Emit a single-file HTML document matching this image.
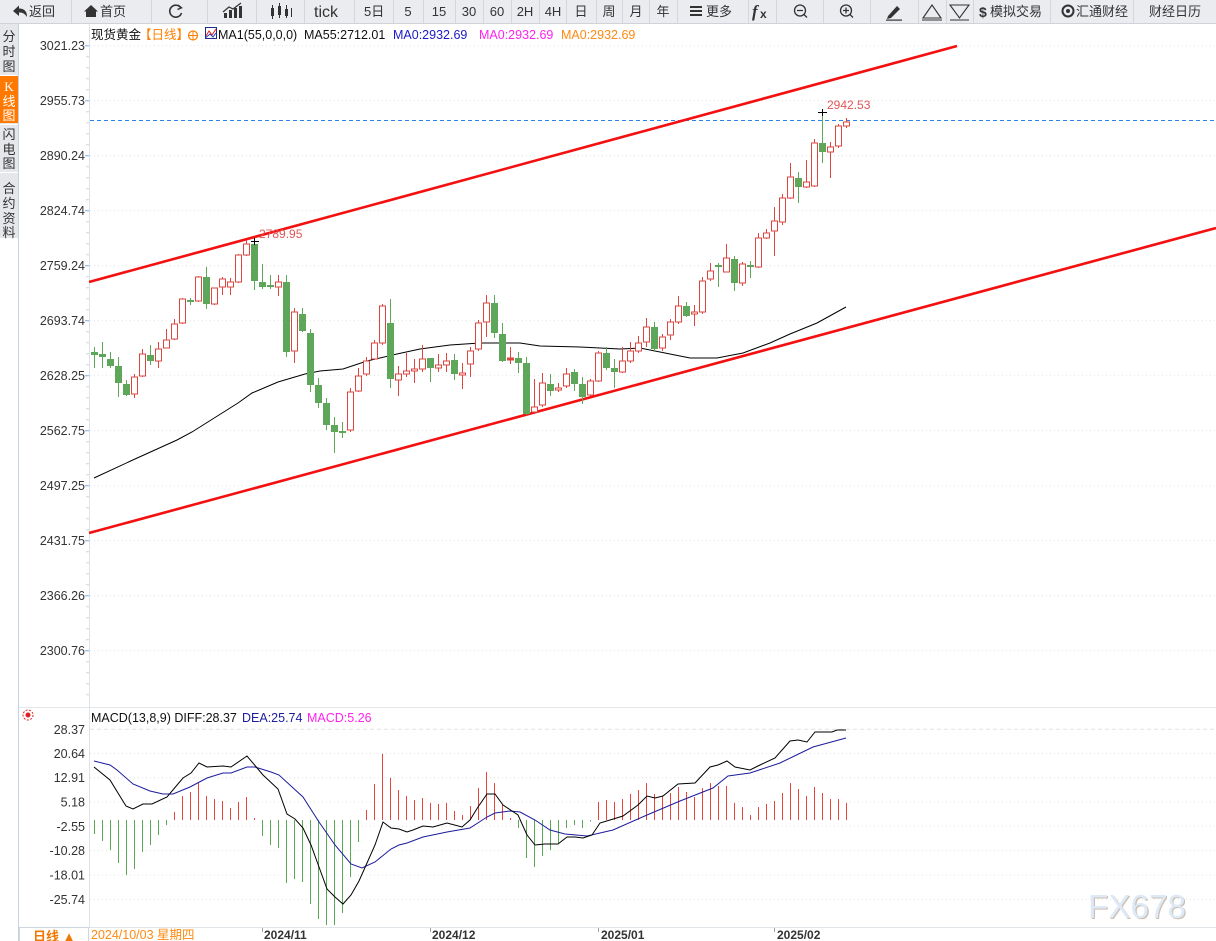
<!DOCTYPE html>
<html><head><meta charset="utf-8"><style>
html,body{margin:0;padding:0;background:#fff;width:1216px;height:941px;overflow:hidden}
svg{display:block;font-family:"Liberation Sans","Noto Sans CJK SC",sans-serif}
</style></head><body>
<svg width="1216" height="941" viewBox="0 0 1216 941" xmlns="http://www.w3.org/2000/svg">
<!-- toolbar -->
<rect x="0" y="0" width="1216" height="24" fill="#eaecf0"/>
<line x1="0" y1="23.5" x2="1216" y2="23.5" stroke="#cfd3d9"/>
<g stroke="#d3d7dd" stroke-width="1">
<path d="M71.5 0V23M151.5 0V23M207.5 0V23M256.5 0V23M304.5 0V23M354.5 0V23M393.5 0V23M423.5 0V23M455.5 0V23M483.5 0V23M511.5 0V23M539.5 0V23M566.5 0V23M596.5 0V23M622.5 0V23M649.5 0V23M677.5 0V23M748.5 0V23M776.5 0V23M823.5 0V23M870.5 0V23M918.5 0V23M946.5 0V23M973.5 0V23M1050.5 0V23M1133.5 0V23"/>
</g>
<g fill="#333" font-size="13">
<path d="M13 11 L19 5.5 V8.5 Q27 8.5 27 17 Q24 12 19 12.5 V16 Z"/>
<text x="29" y="16">返回</text>
<path d="M84 11.5 L91 5 L98 11.5 H96 V17 H86 V11.5 Z"/>
<text x="100" y="16">首页</text>
<text x="314" y="17" font-size="16">tick</text>
<text x="364" y="16">5日</text>
<text x="408" y="16" text-anchor="middle">5</text>
<text x="439" y="16" text-anchor="middle">15</text>
<text x="469" y="16" text-anchor="middle">30</text>
<text x="497" y="16" text-anchor="middle">60</text>
<text x="525" y="16" text-anchor="middle">2H</text>
<text x="553" y="16" text-anchor="middle">4H</text>
<text x="581" y="16" text-anchor="middle">日</text>
<text x="609" y="16" text-anchor="middle">周</text>
<text x="636" y="16" text-anchor="middle">月</text>
<text x="663" y="16" text-anchor="middle">年</text>
<rect x="690" y="6" width="12" height="2"/><rect x="690" y="10" width="12" height="2"/><rect x="690" y="14" width="12" height="2"/>
<text x="706" y="16">更多</text>
<text x="752" y="17" font-size="17" font-style="italic" font-weight="bold" font-family="Liberation Serif,serif">f</text>
<text x="760" y="18" font-size="12" font-weight="bold">x</text>
<text x="979" y="17" font-size="14" font-weight="bold">$</text>
<text x="990" y="16">模拟交易</text>
<text x="1076" y="16">汇通财经</text>
<text x="1149" y="16">财经日历</text>
</g>
<g fill="none" stroke="#333" stroke-width="1.6">
<path d="M180.5 7.5 A6 6 0 1 0 181.5 13"/>
<path d="M178 5 L181.5 7.8 L177.5 9.5" stroke-width="1.4"/>
<circle cx="800" cy="10.5" r="5.5" stroke-width="1.3"/><path d="M797 10.5H803M804 14.5L807 17.5" stroke-width="1.3"/>
<circle cx="846" cy="10.5" r="5.5" stroke-width="1.3"/><path d="M843 10.5H849M846 7.5V13.5M850 14.5L853 17.5" stroke-width="1.3"/>
<path d="M923 18 L932 5 L941 18 Z M922 20H942" stroke-width="1.1"/>
<path d="M950 5 L959.5 18 L969 5 Z M950 20H969" stroke-width="1.1"/>
<circle cx="1068" cy="11" r="5.5" stroke-width="2"/>
</g>
<g fill="#333">
<rect x="224" y="13" width="3" height="5"/><rect x="229" y="10" width="3" height="8"/><rect x="234" y="8" width="3" height="10"/><rect x="239" y="6" width="3" height="12"/>
<path d="M223 12 L229 7 L233 9 L241 3" fill="none" stroke="#333" stroke-width="1.2"/>
<rect x="271" y="8" width="3" height="8"/><rect x="272" y="5" width="1" height="14"/>
<rect x="278" y="6" width="3" height="9"/><rect x="279" y="3" width="1" height="15"/>
<rect x="285" y="9" width="3" height="7"/><rect x="286" y="5" width="1" height="13"/>
<rect x="291" y="8" width="1" height="9"/>
<path d="M888 16 L897 6 L900 9 L891 18 L887 19 Z"/><rect x="886" y="19.5" width="16" height="1.2"/>
<circle cx="1068" cy="11" r="2"/>
</g>

<!-- left sidebar -->
<rect x="0" y="24" width="18" height="214" fill="#e6e7ea"/>
<rect x="0" y="76" width="18" height="47" fill="#ff7800"/>
<g stroke="#fff"><path d="M0 75.5H18M0 124.5H18M0 172.5H18"/></g>
<line x1="18.5" y1="24" x2="18.5" y2="941" stroke="#c8d2dc"/>
<g font-size="13" fill="#333" text-anchor="middle">
<text x="9" y="41">分</text><text x="9" y="56">时</text><text x="9" y="71">图</text>
<text x="9" y="139">闪</text><text x="9" y="154">电</text><text x="9" y="168">图</text>
<text x="9" y="193">合</text><text x="9" y="208">约</text><text x="9" y="223">资</text><text x="9" y="237">料</text>
</g>
<g font-size="13" fill="#fff" text-anchor="middle">
<text x="9" y="91" font-family="Liberation Serif,serif">K</text><text x="9" y="106">线</text><text x="9" y="120">图</text>
</g>

<!-- axis lines -->
<line x1="89.5" y1="24" x2="89.5" y2="927" stroke="#dde3ea"/>
<!-- main grid -->
<g stroke="#e2e2e2" stroke-dasharray="1,3">
<path d="M90 45.7H1216M90 100.7H1216M90 155.7H1216M90 210.7H1216M90 265.7H1216M90 320.7H1216M90 375.7H1216M90 430.7H1216M90 485.7H1216M90 540.7H1216M90 595.7H1216M90 650.7H1216"/>
</g>
<!-- minor ticks -->
<g stroke="#cfd6de">
<path d="M86 56.7H89M86 67.7H89M86 78.7H89M86 89.7H89M86 111.7H89M86 122.7H89M86 133.7H89M86 144.7H89M86 166.7H89M86 177.7H89M86 188.7H89M86 199.7H89M86 221.7H89M86 232.7H89M86 243.7H89M86 254.7H89M86 276.7H89M86 287.7H89M86 298.7H89M86 309.7H89M86 331.7H89M86 342.7H89M86 353.7H89M86 364.7H89M86 386.7H89M86 397.7H89M86 408.7H89M86 419.7H89M86 441.7H89M86 452.7H89M86 463.7H89M86 474.7H89M86 496.7H89M86 507.7H89M86 518.7H89M86 529.7H89M86 551.7H89M86 562.7H89M86 573.7H89M86 584.7H89M86 606.7H89M86 617.7H89M86 628.7H89M86 639.7H89M86 661.7H89M86 672.7H89M86 683.7H89M86 694.7H89"/>
</g>
<g stroke="#7aaee0"><path d="M85 45.7H89M85 100.7H89M85 155.7H89M85 210.7H89M85 265.7H89M85 320.7H89M85 375.7H89M85 430.7H89M85 485.7H89M85 540.7H89M85 595.7H89M85 650.7H89"/></g>
<g font-size="12.5" fill="#333" text-anchor="end">
<text x="85" y="50.2">3021.23</text>
<text x="85" y="105.2">2955.73</text>
<text x="85" y="160.2">2890.24</text>
<text x="85" y="215.2">2824.74</text>
<text x="85" y="270.2">2759.24</text>
<text x="85" y="325.2">2693.74</text>
<text x="85" y="380.2">2628.25</text>
<text x="85" y="435.2">2562.75</text>
<text x="85" y="490.2">2497.25</text>
<text x="85" y="545.2">2431.75</text>
<text x="85" y="600.2">2366.26</text>
<text x="85" y="655.2">2300.76</text>
</g>

<!-- legend -->
<g font-size="12.5">
<text x="91" y="39" fill="#111">现货黄金</text>
<text x="139" y="39" fill="#ff7f00">【日线】</text>
<circle cx="193" cy="35.5" r="4.5" fill="none" stroke="#ff7f00" stroke-width="1.2"/>
<path d="M188.5 35.5H197.5M193 31V40" stroke="#ff7f00" stroke-width="1"/>
<rect x="205.5" y="27.5" width="11" height="11" fill="#fff" stroke="#1c2b8c"/>
<path d="M206 36 L209 31 L212 35 L216 29" fill="none" stroke="#e02020" stroke-width="1"/>
<path d="M206 37.5 L210 34 L213 37 L216 33" fill="none" stroke="#2040c0" stroke-width="1"/>
<text x="218" y="39" fill="#111">MA1(55,0,0,0)</text>
<text x="304" y="39" fill="#111">MA55:2712.01</text>
<text x="393" y="39" fill="#1a1ac8">MA0:2932.69</text>
<text x="479" y="39" fill="#ff22ee">MA0:2932.69</text>
<text x="561" y="39" fill="#ff8a10">MA0:2932.69</text>
</g>

<!-- current price dashed -->
<line x1="90" y1="120.5" x2="1216" y2="120.5" stroke="#2a84e8" stroke-dasharray="4,3"/>

<!-- channel lines -->
<g stroke="#f41010" stroke-width="2.6" fill="none">
<line x1="89" y1="282" x2="957" y2="46"/>
<line x1="89" y1="533" x2="1216" y2="228"/>
</g>

<!-- MA55 -->
<polyline fill="none" stroke="#000" stroke-width="1" points="94,478 135,459 177,440 192,432 238,403 252,393 278,382 305,374 320,371 343,369 367,361 397,354 420,349 450,345 480,343 520,343 540,346 580,347 620,349 640,348 665,353 690,358 717,358 743,353 770,343 790,334 817,323 846,307"/>

<!-- candles red -->
<g stroke="#dc4540" stroke-width="1" fill="#fff">
<path fill="none" d="M134.5 374V398M142.5 349V377M158.5 342V368M166.5 329V348M174.5 319V340M182.5 298V324M198.5 276V302M214.5 288V305M222.5 277V295M230.5 278V295M238.5 254V283M246.5 240V256M278.5 275V296M294.5 308V363M350.5 388V432M358.5 368V392M366.5 357V376M374.5 340V360M382.5 304V345M398.5 366V396M406.5 353V377M414.5 359V383M422.5 345V372M438.5 354V372M446.5 353V372M462.5 363V389M470.5 347V377M478.5 320V351M486.5 295V337M510.5 347V364M534.5 379V414M542.5 373V407M558.5 383V392M566.5 368V388M590.5 379V396M598.5 351V382M622.5 347V373M630.5 342V363M638.5 336V353M646.5 318V347M662.5 334V351M670.5 319V340M678.5 296V324M694.5 305V326M702.5 277V314M710.5 263V281M726.5 244V272M742.5 262V286M758.5 233V268M766.5 229V239M774.5 207V256M782.5 194V225M790.5 163V199M806.5 160V188M814.5 139V187M830.5 142V178M838.5 124V148M846.5 118V128"/>
<rect x="131.5" y="377" width="6" height="17"/>
<rect x="139.5" y="354" width="6" height="22"/>
<rect x="155.5" y="349" width="6" height="12"/>
<rect x="163.5" y="340" width="6" height="8"/>
<rect x="171.5" y="324" width="6" height="15"/>
<rect x="179.5" y="299" width="6" height="24"/>
<rect x="195.5" y="277" width="6" height="24"/>
<rect x="211.5" y="288" width="6" height="16"/>
<rect x="219.5" y="279" width="6" height="8"/>
<rect x="227.5" y="282" width="6" height="5"/>
<rect x="235.5" y="255" width="6" height="27"/>
<rect x="243.5" y="244" width="6" height="11"/>
<rect x="275.5" y="282" width="6" height="5"/>
<rect x="291.5" y="312" width="6" height="39"/>
<rect x="347.5" y="392" width="6" height="38"/>
<rect x="355.5" y="376" width="6" height="15"/>
<rect x="363.5" y="361" width="6" height="13"/>
<rect x="371.5" y="343" width="6" height="16"/>
<rect x="379.5" y="306" width="6" height="37"/>
<rect x="395.5" y="374" width="6" height="6"/>
<rect x="403.5" y="371" width="6" height="3"/>
<rect x="411.5" y="369" width="6" height="2"/>
<rect x="419.5" y="359" width="6" height="10"/>
<rect x="435.5" y="365" width="6" height="3"/>
<rect x="443.5" y="361" width="6" height="4"/>
<rect x="459.5" y="373" width="6" height="2"/>
<rect x="467.5" y="351" width="6" height="13"/>
<rect x="475.5" y="323" width="6" height="26"/>
<rect x="483.5" y="303" width="6" height="19"/>
<rect x="507.5" y="358" width="6" height="2" fill="#dc4540"/>
<rect x="531.5" y="407" width="6" height="5"/>
<rect x="539.5" y="383" width="6" height="22"/>
<rect x="555.5" y="388" width="6" height="2"/>
<rect x="563.5" y="374" width="6" height="12"/>
<rect x="587.5" y="381" width="6" height="14"/>
<rect x="595.5" y="353" width="6" height="28"/>
<rect x="619.5" y="361" width="6" height="11"/>
<rect x="627.5" y="351" width="6" height="10"/>
<rect x="635.5" y="343" width="6" height="8"/>
<rect x="643.5" y="327" width="6" height="15"/>
<rect x="659.5" y="337" width="6" height="11"/>
<rect x="667.5" y="322" width="6" height="13"/>
<rect x="675.5" y="306" width="6" height="16"/>
<rect x="691.5" y="312" width="6" height="2"/>
<rect x="699.5" y="281" width="6" height="31"/>
<rect x="707.5" y="271" width="6" height="8"/>
<rect x="723.5" y="258" width="6" height="14"/>
<rect x="739.5" y="264" width="6" height="19"/>
<rect x="755.5" y="238" width="6" height="29"/>
<rect x="763.5" y="233" width="6" height="5"/>
<rect x="771.5" y="221" width="6" height="10"/>
<rect x="779.5" y="198" width="6" height="24"/>
<rect x="787.5" y="177" width="6" height="21"/>
<rect x="803.5" y="182" width="6" height="5"/>
<rect x="811.5" y="143" width="6" height="43"/>
<rect x="827.5" y="147" width="6" height="5"/>
<rect x="835.5" y="126" width="6" height="20"/>
<rect x="843.5" y="122" width="6" height="4"/>
</g>
<!-- candles green -->
<g fill="#5ea65a">
<path fill="none" stroke="#5ea65a" d="M94.5 347V368M102.5 342V368M110.5 352V368M118.5 357V397M126.5 380V396M150.5 345V365M190.5 298V305M206.5 267V309M254.5 241V290M262.5 264V289M270.5 275V289M286.5 275V357M302.5 308V332M310.5 329V392M318.5 378V408M326.5 398V430M334.5 417V453M342.5 422V438M390.5 299V388M430.5 358V382M454.5 354V380M494.5 295V338M502.5 323V362M518.5 352V373M526.5 357V415M550.5 374V396M574.5 369V391M582.5 377V404M606.5 347V370M614.5 359V388M654.5 322V352M686.5 302V317M718.5 263V287M734.5 256V291M750.5 261V278M798.5 172V203M822.5 112V163"/>
<rect x="91" y="352" width="7" height="3"/>
<rect x="99" y="354" width="7" height="3"/>
<rect x="107" y="359" width="7" height="7"/>
<rect x="115" y="366" width="7" height="17"/>
<rect x="123" y="384" width="7" height="11"/>
<rect x="147" y="355" width="7" height="6"/>
<rect x="187" y="300" width="7" height="2"/>
<rect x="203" y="277" width="7" height="27"/>
<rect x="251" y="244" width="7" height="37"/>
<rect x="259" y="282" width="7" height="5"/>
<rect x="267" y="285" width="7" height="2"/>
<rect x="283" y="282" width="7" height="70"/>
<rect x="299" y="314" width="7" height="17"/>
<rect x="307" y="333" width="7" height="52"/>
<rect x="315" y="385" width="7" height="18"/>
<rect x="323" y="403" width="7" height="22"/>
<rect x="331" y="425" width="7" height="7"/>
<rect x="339" y="431" width="7" height="2"/>
<rect x="387" y="323" width="7" height="56"/>
<rect x="427" y="358" width="7" height="10"/>
<rect x="451" y="360" width="7" height="14"/>
<rect x="491" y="303" width="7" height="30"/>
<rect x="499" y="334" width="7" height="27"/>
<rect x="515" y="358" width="7" height="5"/>
<rect x="523" y="363" width="7" height="51"/>
<rect x="547" y="384" width="7" height="7"/>
<rect x="571" y="372" width="7" height="12"/>
<rect x="579" y="384" width="7" height="13"/>
<rect x="603" y="353" width="7" height="15"/>
<rect x="611" y="368" width="7" height="4"/>
<rect x="651" y="327" width="7" height="22"/>
<rect x="683" y="306" width="7" height="10"/>
<rect x="715" y="265" width="7" height="2"/>
<rect x="731" y="259" width="7" height="24"/>
<rect x="747" y="265" width="7" height="2"/>
<rect x="795" y="178" width="7" height="9"/>
<rect x="819" y="143" width="7" height="9"/>
</g>

<!-- high markers -->
<g stroke="#000" stroke-width="1"><path d="M251 241.5H259M254.5 238V245M818 112.5H827M822.5 109V116"/></g>
<g font-size="12" fill="#e05555">
<text x="259" y="238">2789.95</text>
<text x="827" y="109">2942.53</text>
</g>

<!-- MACD panel -->
<line x1="19" y1="707.5" x2="1216" y2="707.5" stroke="#e3e7ec"/>
<g stroke="#e02020" fill="none"><circle cx="28" cy="715" r="2.5" fill="#e02020" stroke="none"/><circle cx="28" cy="715" r="5" stroke-width="1" stroke-dasharray="2,1.5"/></g>
<g font-size="12.5">
<text x="91" y="722" fill="#111">MACD(13,8,9) DIFF:28.37</text>
<text x="242" y="722" fill="#1c1c9c">DEA:25.74</text>
<text x="307" y="722" fill="#ff22ee">MACD:5.26</text>
</g>
<g stroke="#e2e2e2" stroke-dasharray="1,3">
<path d="M90 753.5H1216M90 777.7H1216M90 802H1216M90 826.3H1216M90 850.7H1216M90 875H1216M90 899.3H1216"/>
</g>
<line x1="90" y1="729.3" x2="1216" y2="729.3" stroke="#e2e2e2" stroke-dasharray="4,3"/>
<g font-size="12.5" fill="#333" text-anchor="end">
<text x="85" y="733.8">28.37</text>
<text x="85" y="758">20.64</text>
<text x="85" y="782.2">12.91</text>
<text x="85" y="806.5">5.18</text>
<text x="85" y="830.8">-2.55</text>
<text x="85" y="855.2">-10.28</text>
<text x="85" y="879.5">-18.01</text>
<text x="85" y="903.8">-25.74</text>
</g>
<!-- histogram green -->
<path stroke="#5aa855" stroke-width="1" fill="none" d="M94.5 820V834M102.5 820V841M110.5 820V850M118.5 820V863M126.5 820V875M134.5 820V869M142.5 820V852M150.5 820V845M158.5 820V835M166.5 820V825M262.5 820V836M270.5 820V845M278.5 820V848M286.5 820V883M294.5 820V879M302.5 820V882M310.5 820V904M318.5 820V919M326.5 820V925M334.5 820V925M342.5 820V913M350.5 820V877M358.5 820V842M518.5 820V828M526.5 820V858M534.5 820V867M542.5 820V856M550.5 820V850M558.5 820V843M566.5 820V828M574.5 820V825M582.5 820V828M590.5 820V821.5"/>
<!-- histogram red -->
<path stroke="#e8443c" stroke-width="1" fill="none" d="M174.5 820V812M182.5 820V796M190.5 820V792M198.5 820V782M206.5 820V796M214.5 820V799M222.5 820V801M230.5 820V808M238.5 820V802M246.5 820V797M254.5 820V818M366.5 820V810M374.5 820V784M382.5 820V754M390.5 820V778M398.5 820V790M406.5 820V796M414.5 820V800M422.5 820V798M430.5 820V803M438.5 820V804M446.5 820V803M454.5 820V811M462.5 820V815M470.5 820V806M478.5 820V788M486.5 820V772M494.5 820V783M502.5 820V805M510.5 820V818M598.5 820V802M606.5 820V800M614.5 820V802M622.5 820V799M630.5 820V794M638.5 820V790M646.5 820V783M654.5 820V794M662.5 820V796M670.5 820V793M678.5 820V787M686.5 820V792M694.5 820V797M702.5 820V788M710.5 820V783M718.5 820V786M726.5 820V786M734.5 820V803M742.5 820V807M750.5 820V815M758.5 820V807M766.5 820V804M774.5 820V801M782.5 820V793M790.5 820V783M798.5 820V789M806.5 820V796M814.5 820V787M822.5 820V793M830.5 820V799M838.5 820V799M846.5 820V803"/>
<!-- DEA -->
<polyline fill="none" stroke="#1c1c9c" stroke-width="1" points="94,761 110,765 117,770 133,784 150,791 163,794 173,794 190,787 207,778 223,773 231,773 247,767 255,767 271,772 279,775 303,797 319,822 335,845 351,864 362,868 375,862 391,849 399,845 407,843 423,837 447,832 470,828 487,817 495,813 510,811 520,812 535,820 550,830 565,834 587,836 613,830 647,815 680,801 713,788 728,776 750,773 780,763 813,747 846,738"/>
<!-- DIFF -->
<polyline fill="none" stroke="#000" stroke-width="1" points="94,767 110,780 126,806 133,809 143,804 152,804 167,797 183,778 191,773 199,763 207,767 223,766 231,767 247,756 263,775 278,789 287,814 295,819 303,828 311,845 319,867 327,889 335,897 343,904 351,895 359,881 367,863 375,845 383,822 391,828 399,829 407,832 413,830 423,826 433,827 447,823 462,827 470,820 478,807 487,794 495,794 503,805 518,815 527,835 535,845 545,844 558,844 567,837 575,837 583,838 592,835 600,823 610,820 623,816 638,805 647,796 655,798 663,796 678,784 695,783 710,767 718,765 727,761 735,767 750,770 760,765 775,758 790,741 798,740 807,742 815,732 832,732 837,730 846,730"/>

<!-- watermark -->
<g font-size="33" font-family="Liberation Sans,sans-serif">
<text x="1089.2" y="919.2" fill="#cdbfb1" textLength="98" lengthAdjust="spacingAndGlyphs">FX678</text>
<text x="1088" y="918" fill="#dde9f6" textLength="98" lengthAdjust="spacingAndGlyphs">FX678</text>
</g>

<!-- bottom axis -->
<line x1="19" y1="927.5" x2="1216" y2="927.5" stroke="#dfe5e8"/>
<rect x="19.5" y="927.5" width="69" height="14" fill="#fff" stroke="#cfd6de"/>
<text x="33" y="941" font-size="13" fill="#f07800" font-weight="bold">日线 ▲</text>
<g stroke="#9aa4ae"><path d="M262.5 928V932M430.5 928V932M598.5 928V932M774.5 928V932"/></g>
<text x="91" y="939" font-size="12.5" fill="#ff8a10">2024/10/03 星期四</text>
<g font-size="12" font-weight="bold" fill="#333">
<text x="264" y="939">2024/11</text>
<text x="432" y="939">2024/12</text>
<text x="601" y="939">2025/01</text>
<text x="777" y="939">2025/02</text>
</g>
</svg>
</body></html>
